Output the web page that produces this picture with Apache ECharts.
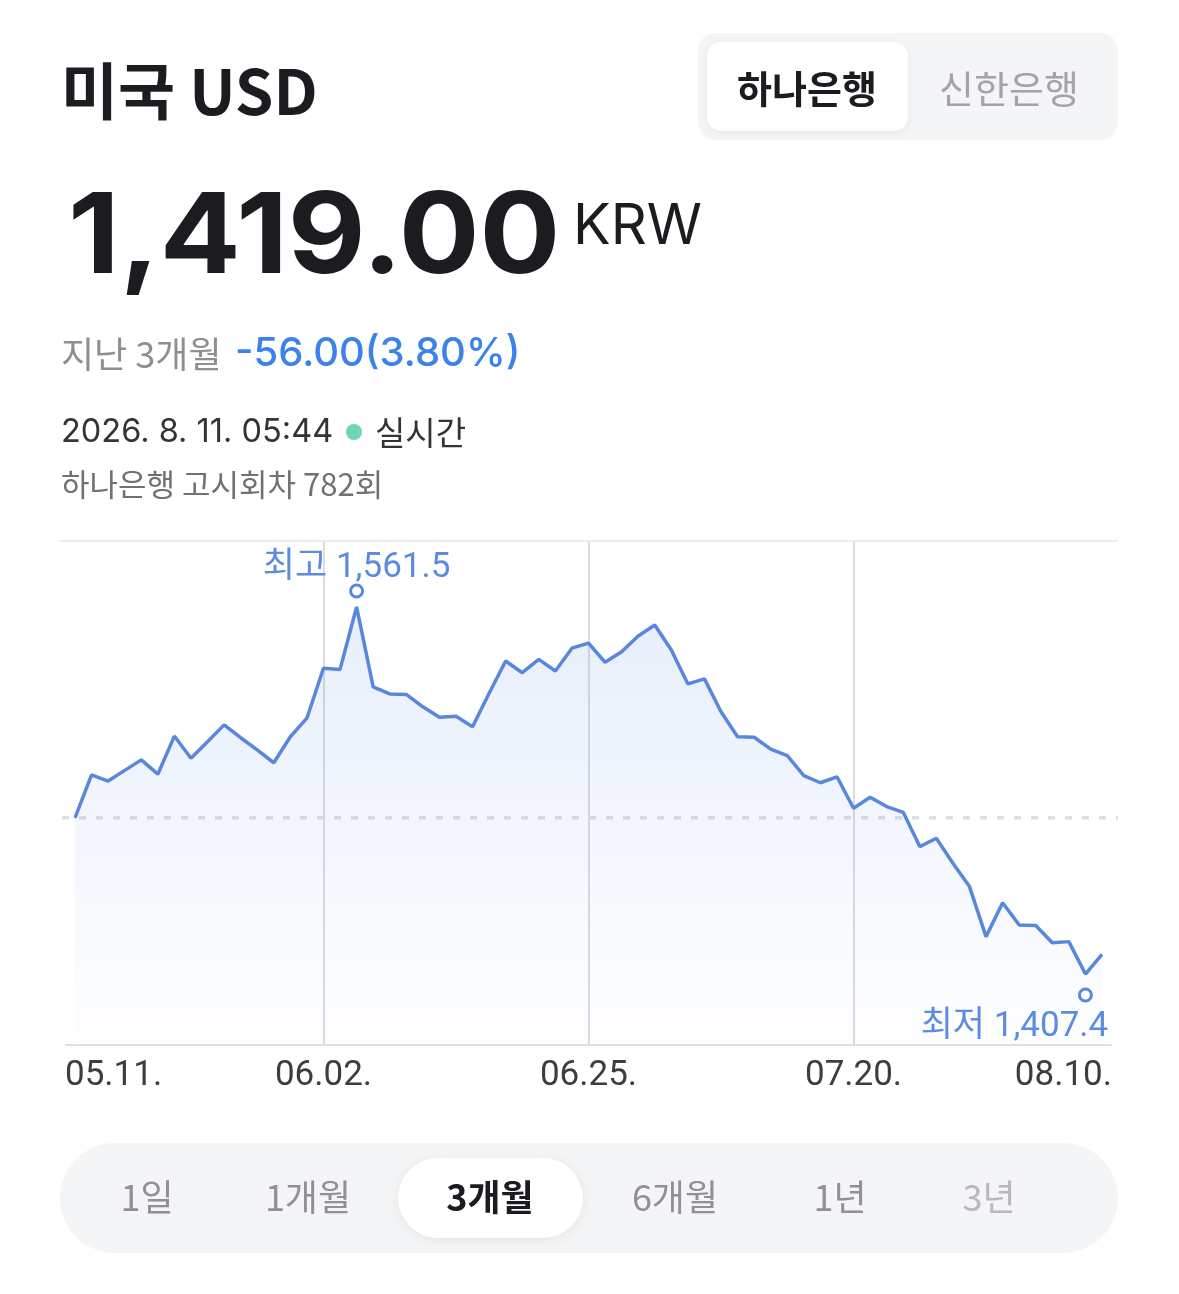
<!DOCTYPE html>
<html><head><meta charset="utf-8">
<script src="https://cdn.jsdelivr.net/npm/echarts@6/dist/echarts.min.js"></script>
<style>html,body{margin:0;padding:0;background:#fff;}#c{width:1179px;height:1294px;}</style>
</head><body><div id="c"></div>
<script>
// ---- data ----
const dates = ['05.11.','05.12.','05.13.','05.14.','05.15.','05.18.','05.19.','05.20.','05.21.','05.22.',
 '05.26.','05.27.','05.28.','05.29.','06.01.','06.02.','06.04.','06.05.','06.08.','06.09.',
 '06.10.','06.11.','06.12.','06.15.','06.16.','06.17.','06.18.','06.19.','06.22.','06.23.',
 '06.24.','06.25.','06.26.','06.29.','06.30.','07.01.','07.02.','07.03.','07.06.','07.07.',
 '07.08.','07.09.','07.10.','07.13.','07.14.','07.15.','07.16.','07.20.','07.21.','07.22.',
 '07.23.','07.24.','07.27.','07.28.','07.29.','07.30.','07.31.','08.03.','08.04.','08.05.',
 '08.06.','08.07.','08.10.'];
const rates = [1473.0,1491.0,1488.4,1492.9,1497.3,1491.3,1507.3,1498.0,1504.9,1512.0,
 1506.6,1501.5,1496.1,1507.0,1514.8,1535.8,1535.3,1561.5,1528.0,1525.0,
 1524.8,1519.6,1515.2,1515.6,1511.2,1525.3,1538.8,1533.9,1539.5,1534.6,
 1544.2,1546.3,1538.3,1542.7,1549.3,1553.9,1543.4,1529.2,1531.3,1517.5,
 1507.0,1506.8,1501.8,1499.1,1490.7,1487.7,1490.2,1477.0,1481.6,1477.7,
 1475.3,1460.9,1464.4,1453.9,1444.1,1423.1,1437.3,1428.0,1427.8,1420.5,
 1421.0,1407.4,1415.7];
const tickLabels = ['05.11.','06.02.','06.25.','07.20.','08.10.'];
const periods = ['1일','1개월','3개월','6개월','1년','3년'];
const banks = ['하나은행','신한은행'];
const currentRate = 1419.00;
const changeValue = -56.00;
const changePct = 3.80;

const BLUE = '#5a87de';
const FONT = "Inter, 'Noto Sans CJK KR', sans-serif";
const RFONT = "Roboto, 'Noto Sans CJK KR', sans-serif";
const KFONT = "'Noto Sans CJK KR', Inter, sans-serif";
const yMin = 1377.6, yMax = 1589.2;
const lastIdx = dates.length - 1;
const fmt = v => v.toLocaleString('en-US', {minimumFractionDigits: 1, maximumFractionDigits: 1});

const chart = echarts.init(document.getElementById('c'), null, {renderer: 'canvas'});

function txt(x, y, text, size, color, weight, align, family, sx) {
  return {type: 'text', x: x, y: y, z: 10, scaleX: sx || 1,
    style: {text: text, fontSize: size, fill: color, fontWeight: weight || 'normal',
      align: align || 'left', verticalAlign: 'middle', fontFamily: family || FONT}};
}

const periodX = [147, 308, 490, 675, 840, 989];
const periodColors = ['#909095','#909095','#1b1b20','#909095','#909095','#b8b8bd'];

const graphics = [
  txt(61, 91, '미국 USD', 62, '#1b1b20', 'bold', 'left', KFONT),
  txt(68, 239, currentRate.toLocaleString('en-US', {minimumFractionDigits: 2}), 112, '#1b1b20', 'bold', 'left', FONT, 1.07),
  txt(573, 227, 'KRW', 56, '#1b1b20', 'normal'),
  txt(61, 354, '지난 3개월', 36, '#8e8e93', 'normal', 'left', KFONT),
  txt(235, 354, changeValue.toFixed(2) + '(' + changePct.toFixed(2) + '%)', 40, '#3b82ea', '500'),
  txt(61, 432, '2026. 8. 11. 05:44', 32.5, '#333338', 'normal'),
  {type: 'circle', z: 10, shape: {cx: 354, cy: 432, r: 8}, style: {fill: '#6dd5b8'}},
  txt(375, 432, '실시간', 33, '#333338', 'normal', 'left', KFONT),
  txt(61, 484, '하나은행 고시회차 782회', 31, '#707075', 'normal', 'left', KFONT),
  // bank toggle
  {type: 'rect', z: 5, shape: {x: 698, y: 33, width: 420, height: 107, r: 18}, style: {fill: '#f4f5f7'}},
  {type: 'rect', z: 6, shape: {x: 707, y: 42, width: 201, height: 89, r: 14},
    style: {fill: '#ffffff', shadowBlur: 10, shadowColor: 'rgba(0,0,0,0.06)', shadowOffsetY: 2}},
  txt(807, 89, banks[0], 38, '#1b1b20', 'bold', 'center', KFONT),
  txt(1009, 89, banks[1], 38, '#a3a3a8', 'normal', 'center', KFONT),
  // period selector
  {type: 'rect', z: 5, shape: {x: 60, y: 1143, width: 1058, height: 110, r: 55}, style: {fill: '#f4f5f7'}},
  {type: 'rect', z: 6, shape: {x: 398, y: 1158, width: 185, height: 80, r: 40},
    style: {fill: '#ffffff', shadowBlur: 12, shadowColor: 'rgba(0,0,0,0.07)', shadowOffsetY: 2}},
  // chart frame lines
  {type: 'line', z: 1, shape: {x1: 60, y1: 541, x2: 1118, y2: 541}, style: {stroke: '#ececef', lineWidth: 2}},
  {type: 'line', z: 1, shape: {x1: 65, y1: 1045, x2: 1112, y2: 1045}, style: {stroke: '#dde1e8', lineWidth: 2}}
];
periods.forEach((p, i) => {
  graphics.push(txt(periodX[i], 1197, p, 36, periodColors[i], i === 2 ? 'bold' : 'normal', 'center', KFONT));
});

const option = {
  animation: false,
  backgroundColor: '#ffffff',
  grid: {left: 75, right: 77, top: 541, height: 504, containLabel: false},
  xAxis: {
    type: 'category', data: dates, boundaryGap: false,
    axisLine: {show: false}, axisTick: {show: false},
    axisLabel: {
      interval: (i, v) => tickLabels.includes(v),
      margin: 14, fontSize: 35, color: '#3c3c41', fontFamily: RFONT,
      alignMinLabel: 'left', alignMaxLabel: 'right',
      formatter: (v, i) => i === 0 ? '{first|' + v + '}' : (i === lastIdx ? '{last|' + v + '}' : v),
      rich: {
        first: {fontSize: 35, color: '#3c3c41', fontFamily: RFONT, padding: [0, 0, 0, -10]},
        last: {fontSize: 35, color: '#3c3c41', fontFamily: RFONT, padding: [0, -10, 0, 0]}
      }
    },
    splitLine: {show: true, interval: (i, v) => tickLabels.includes(v) && i !== 0 && i !== lastIdx,
      lineStyle: {color: '#dcdce0', width: 2}}
  },
  yAxis: {type: 'value', min: yMin, max: yMax, show: false, splitLine: {show: false}},
  series: [{
    type: 'line', data: rates, symbol: 'none', z: 3,
    lineStyle: {color: BLUE, width: 3.5},
    areaStyle: {origin: 'start', color: new echarts.graphic.LinearGradient(0, 0, 0, 1, [
      {offset: 0, color: 'rgba(90,135,222,0.20)'},
      {offset: 1, color: 'rgba(90,135,222,0.01)'}])},
    markPoint: {
      symbol: 'circle', symbolSize: 12,
      itemStyle: {color: '#ffffff', borderColor: BLUE, borderWidth: 3},
      data: [
        {type: 'max', symbolOffset: [0, -16],
          label: {show: true, position: 'top', distance: -2, formatter: p => '최고 ' + fmt(p.value),
            fontSize: 35, color: '#5d8be0', fontFamily: RFONT}},
        {type: 'min', symbolOffset: [0, 21],
          label: {show: true, position: 'bottom', distance: 7, offset: [-71, 0], formatter: p => '최저 ' + fmt(p.value),
            fontSize: 35, color: '#5d8be0', fontFamily: RFONT}}
      ]
    }
  }],
  graphic: graphics
};
chart.setOption(option);

// dashed reference line at the period's starting rate, positioned through the y scale
const yRef = chart.convertToPixel({yAxisIndex: 0}, rates[0]);
graphics.push({type: 'line', z: 1, shape: {x1: 62, y1: yRef, x2: 1118, y2: yRef},
  style: {stroke: '#dcdee5', lineWidth: 3.5, lineDash: [7, 10]}});
chart.setOption({graphic: graphics});
</script></body></html>
